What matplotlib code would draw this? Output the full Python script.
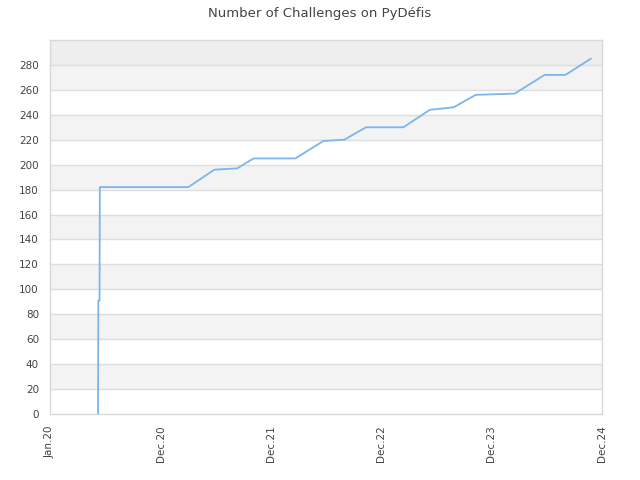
import matplotlib
matplotlib.use("Agg")
import matplotlib.pyplot as plt
import pandas as pd

# cumulative number of challenges at the breakpoints
dates = pd.to_datetime([
    "2020-05-08", "2020-05-09", "2020-05-13", "2020-05-14",
    "2021-03-03", "2021-05-28", "2021-08-11", "2021-10-05",
    "2022-02-20", "2022-05-24", "2022-08-01", "2022-10-12",
    "2023-02-13", "2023-05-11", "2023-07-29", "2023-10-10",
    "2024-02-16", "2024-05-25", "2024-08-02", "2024-10-25",
])
counts = [0, 91, 91, 182,
          182, 196, 197, 205,
          205, 219, 220, 230,
          230, 244, 246, 256,
          257, 272, 272, 285]

tick_dates = pd.to_datetime(["2019-12-01", "2020-12-01", "2021-12-01",
                             "2022-12-01", "2023-12-01", "2024-12-01"])
tick_labels = ["Jan.20", "Dec.20", "Dec.21", "Dec.22", "Dec.23", "Dec.24"]
y_ticks = list(range(0, 281, 20))

fig = plt.figure(figsize=(6.4, 4.8), dpi=100)
ax = fig.add_axes([50/640, 1 - 414/480, 552/640, 374/480])

# alternating bands
for lo in range(20, 280, 40):
    ax.axhspan(lo, lo + 20, color="#f3f3f3", zorder=0, lw=0)
ax.axhspan(280, 300, color="#eeeeee", zorder=0, lw=0)
for y in y_ticks[1:]:
    ax.axhline(y, color="#dddddd", lw=1, zorder=1)

ax.plot(dates, counts, color="#7cb5ec", lw=1.3, zorder=3)

ax.set_xlim(tick_dates[0], tick_dates[-1])
ax.set_ylim(0, 300)
ax.set_xticks(tick_dates)
ax.set_xticklabels(tick_labels, rotation=90, fontsize=7.5, color="#444444")
ax.set_yticks(y_ticks)
ax.set_yticklabels([str(v) for v in y_ticks], fontsize=7.5, color="#444444")
ax.tick_params(axis="y", length=0, pad=8)
ax.tick_params(axis="x", length=0, pad=8)

for s in ax.spines.values():
    s.set_color("#d8d8d8")
    s.set_linewidth(1)

fig.suptitle("Number of Challenges on PyDéfis", y=1 - 13/480, va="center",
             fontsize=9.5, color="#444444")

fig.savefig("out.png", dpi=100)
